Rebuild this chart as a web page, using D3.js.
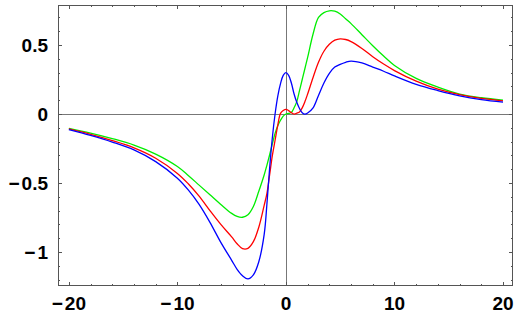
<!DOCTYPE html>
<html>
<head>
<meta charset="utf-8">
<script src="https://cdn.jsdelivr.net/npm/d3@7"></script>
<style>
  body { margin: 0; background: #fff; }
  svg { display: block; }
  .lbl { font-family: "Liberation Sans", Arial, sans-serif; font-weight: bold; font-size: 19px; fill: #000; }
</style>
</head>
<body>
<div id="chart"></div>
<script>
// values
var xs = [-20, -18, -16, -14, -12, -10, -9, -8, -7, -6, -5, -4.5, -4, -3.5, -3, -2.5, -2, -1.75, -1.5, -1.25,
          -1, -0.75, -0.5, -0.25, 0, 0.25, 0.5, 0.75, 1, 1.25, 1.5, 1.75, 2, 2.5, 3, 3.5, 4, 4.5, 5, 5.5,
          6, 7, 8, 9, 10, 12, 14, 16, 18, 20];

var greenVals = [-0.104, -0.138, -0.178, -0.225, -0.29, -0.38, -0.445, -0.515, -0.585, -0.655, -0.72, -0.742, -0.748, -0.73, -0.67, -0.56, -0.44, -0.37, -0.295, -0.215,
                 -0.14, -0.085, -0.045, -0.015, 0, 0.004, 0.012, 0.045, 0.09, 0.17, 0.25, 0.33, 0.41, 0.58, 0.70, 0.735, 0.748, 0.745, 0.725, 0.69,
                 0.655, 0.575, 0.495, 0.42, 0.352, 0.258, 0.195, 0.145, 0.118, 0.101];

var redVals = [-0.108, -0.147, -0.192, -0.245, -0.32, -0.43, -0.505, -0.595, -0.70, -0.80, -0.89, -0.94, -0.975, -0.973, -0.925, -0.82, -0.66, -0.575, -0.44, -0.30,
               -0.19, -0.08, 0.005, 0.025, 0.034, 0.025, 0.01, 0.0, 0.006, 0.015, 0.045, 0.09, 0.145, 0.265, 0.375, 0.455, 0.505, 0.535, 0.545, 0.54,
               0.525, 0.475, 0.415, 0.362, 0.315, 0.238, 0.18, 0.14, 0.113, 0.096];

var blueVals = [-0.113, -0.155, -0.203, -0.26, -0.345, -0.465, -0.55, -0.655, -0.785, -0.93, -1.06, -1.125, -1.172, -1.195, -1.165, -1.07, -0.87, -0.65, -0.39, -0.17,
                0.0, 0.13, 0.22, 0.28, 0.30, 0.28, 0.225, 0.145, 0.085, 0.04, 0.01, 0.0, 0.008, 0.045, 0.135, 0.225, 0.295, 0.34, 0.36, 0.375,
                0.384, 0.37, 0.34, 0.31, 0.276, 0.215, 0.17, 0.132, 0.105, 0.087];

var xMajor = [-20, -10, 0, 10, 20];
var xMinor = [-18, -16, -14, -12, -8, -6, -4, -2, 2, 4, 6, 8, 12, 14, 16, 18];
var yMajor = [-1, -0.5, 0, 0.5];
var yMinor = [-1.2, -1.1, -0.9, -0.8, -0.7, -0.6, -0.4, -0.3, -0.2, -0.1, 0.1, 0.2, 0.3, 0.4, 0.6, 0.7];

var seriesList = [
    {name: "green", color: "#00ee00", vals: greenVals},
    {name: "red", color: "#ff0000", vals: redVals},
    {name: "blue", color: "#0000ff", vals: blueVals}
];

var width = 518, height = 320;
var fLeft = 58, fRight = 513, fTop = 5, fBottom = 286;

var x = d3.scaleLinear().domain([-21, 20.92]).range([fLeft, fRight]);
var y = d3.scaleLinear().domain([-1.246, 0.79]).range([fBottom, fTop]);

var svg = d3.select("#chart").append("svg")
    .attr("width", width)
    .attr("height", height);

// axes through the origin
svg.append("line")
    .attr("x1", fLeft).attr("x2", fRight)
    .attr("y1", Math.round(y(0)) + 0.5).attr("y2", Math.round(y(0)) + 0.5)
    .attr("stroke", "#777").attr("stroke-width", 1);
svg.append("line")
    .attr("x1", Math.round(x(0)) + 0.5).attr("x2", Math.round(x(0)) + 0.5)
    .attr("y1", fTop).attr("y2", fBottom)
    .attr("stroke", "#777").attr("stroke-width", 1);

// curves
var line = d3.line()
    .x(function(d, i){ return x(xs[i]); })
    .y(function(d){ return y(d); })
    .curve(d3.curveCatmullRom.alpha(0.5));

svg.selectAll("path.curve")
    .data(seriesList)
    .enter()
    .append("path")
    .attr("class", "curve")
    .attr("d", function(d){ return line(d.vals); })
    .attr("fill", "none")
    .attr("stroke", function(d){ return d.color; })
    .attr("stroke-width", 1.3);

// frame
svg.append("rect")
    .attr("x", fLeft + 0.5).attr("y", fTop + 0.5)
    .attr("width", fRight - fLeft - 1).attr("height", fBottom - fTop - 1)
    .attr("fill", "none").attr("stroke", "#555").attr("stroke-width", 1);

// ticks on all four sides, pointing inward
var tickG = svg.append("g").attr("stroke", "#555").attr("stroke-width", 1);

function xTicks(vals, len){
    vals.forEach(function(v){
        var px = Math.round(x(v)) + 0.5;
        tickG.append("line").attr("x1", px).attr("x2", px).attr("y1", fBottom).attr("y2", fBottom - len);
        tickG.append("line").attr("x1", px).attr("x2", px).attr("y1", fTop).attr("y2", fTop + len);
    });
}
function yTicks(vals, len){
    vals.forEach(function(v){
        var py = Math.round(y(v)) + 0.5;
        tickG.append("line").attr("y1", py).attr("y2", py).attr("x1", fLeft).attr("x2", fLeft + len);
        tickG.append("line").attr("y1", py).attr("y2", py).attr("x1", fRight).attr("x2", fRight - len);
    });
}
xTicks(xMajor, 4);
xTicks(xMinor, 2);
yTicks(yMajor, 4);
yTicks(yMinor, 2);

// tick labels
function addLabel(g, v){
    if (v < 0) {
        g.append("tspan").text("\u2212");
        g.append("tspan").attr("dx", 2).text(String(-v));
    } else {
        g.text(String(v));
    }
}

svg.selectAll("text.xl")
    .data(xMajor)
    .enter()
    .append("text")
    .attr("class", "lbl xl")
    .attr("x", function(d){ return x(d); })
    .attr("y", 303)
    .attr("dy", "0.35em")
    .attr("text-anchor", "middle")
    .each(function(d){ addLabel(d3.select(this), d); });

svg.selectAll("text.yl")
    .data(yMajor)
    .enter()
    .append("text")
    .attr("class", "lbl yl")
    .attr("x", 48)
    .attr("y", function(d){ return y(d); })
    .attr("dy", "0.35em")
    .attr("text-anchor", "end")
    .each(function(d){ addLabel(d3.select(this), d); });
</script>
</body>
</html>
